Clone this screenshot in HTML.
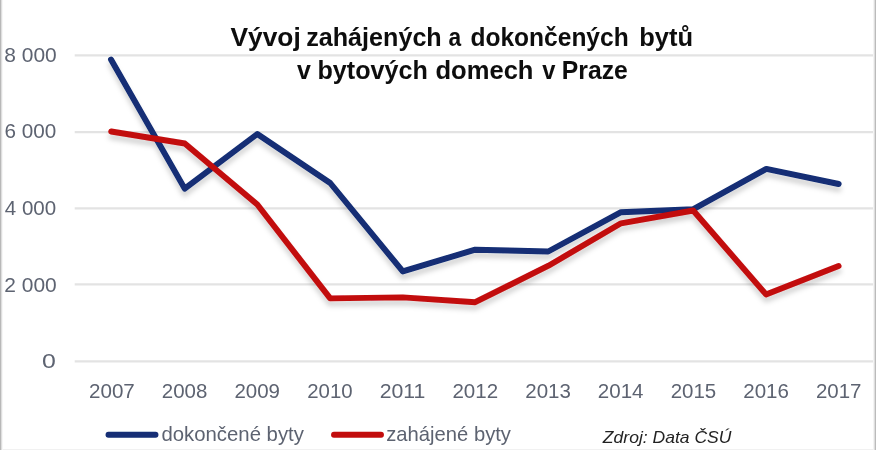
<!DOCTYPE html>
<html><head><meta charset="utf-8"><title>chart</title>
<style>
html,body{margin:0;padding:0;background:#fff;}
body{width:876px;height:450px;overflow:hidden;font-family:"Liberation Sans",sans-serif;}
svg{display:block;font-family:"Liberation Sans",sans-serif;will-change:transform;}
</style></head><body>
<svg width="876" height="450" viewBox="0 0 876 450">
<defs><filter id="sh" x="-5%" y="-10%" width="110%" height="125%" filterUnits="objectBoundingBox"><feGaussianBlur in="SourceAlpha" stdDeviation="2.6"/><feOffset dx="0" dy="5" result="b"/><feFlood flood-color="#000" flood-opacity="0.17"/><feComposite in2="b" operator="in"/><feMerge><feMergeNode/><feMergeNode in="SourceGraphic"/></feMerge></filter><filter id="soft" x="0" y="0" width="100%" height="100%" filterUnits="objectBoundingBox"><feGaussianBlur stdDeviation="0.35"/></filter></defs>
<rect width="876" height="450" fill="#fff"/>
<rect x="0" y="449" width="876" height="1" fill="#f1f1f1"/>
<g stroke="#e3e3e3" stroke-width="2.2"><line x1="74.7" x2="875" y1="55.3" y2="55.3"/><line x1="74.7" x2="875" y1="132.1" y2="132.1"/><line x1="74.7" x2="875" y1="208.3" y2="208.3"/><line x1="74.7" x2="875" y1="284.4" y2="284.4"/><line x1="74.7" x2="875" y1="361.4" y2="361.4"/></g>
<rect x="0" y="0" width="1" height="450" fill="#b8b8b8"/>
<rect x="1" y="0" width="1" height="450" fill="#dedede"/>
<rect x="2" y="0" width="1" height="450" fill="#f6f6f6"/>
<rect x="873" y="0" width="1" height="450" fill="#f4f4f4"/>
<rect x="874" y="0" width="1" height="450" fill="#dedede"/>
<rect x="875" y="0" width="1" height="450" fill="#bbbbbb"/>
<g filter="url(#soft)"><g fill="#5d6371"><text x="41.91" y="368.10" font-size="20.60" textLength="13.83" lengthAdjust="spacingAndGlyphs">0</text><text x="4.30" y="291.55" font-size="20.60" textLength="52.39" lengthAdjust="spacingAndGlyphs">2 000</text><text x="4.81" y="215.00" font-size="20.60" textLength="51.36" lengthAdjust="spacingAndGlyphs">4 000</text><text x="4.51" y="138.45" font-size="20.60" textLength="51.76" lengthAdjust="spacingAndGlyphs">6 000</text><text x="4.31" y="61.90" font-size="20.60" textLength="52.40" lengthAdjust="spacingAndGlyphs">8 000</text><text x="89.03" y="397.60" font-size="20.60" textLength="45.80" lengthAdjust="spacingAndGlyphs">2007</text><text x="161.86" y="397.60" font-size="20.60" textLength="45.52" lengthAdjust="spacingAndGlyphs">2008</text><text x="234.45" y="397.60" font-size="20.60" textLength="45.57" lengthAdjust="spacingAndGlyphs">2009</text><text x="307.27" y="397.60" font-size="20.60" textLength="45.34" lengthAdjust="spacingAndGlyphs">2010</text><text x="379.73" y="397.60" font-size="20.60" textLength="45.73" lengthAdjust="spacingAndGlyphs">2011</text><text x="452.42" y="397.60" font-size="20.60" textLength="45.67" lengthAdjust="spacingAndGlyphs">2012</text><text x="525.25" y="397.60" font-size="20.60" textLength="45.64" lengthAdjust="spacingAndGlyphs">2013</text><text x="597.83" y="397.60" font-size="20.60" textLength="45.70" lengthAdjust="spacingAndGlyphs">2014</text><text x="670.67" y="397.60" font-size="20.60" textLength="45.55" lengthAdjust="spacingAndGlyphs">2015</text><text x="743.24" y="397.60" font-size="20.60" textLength="45.64" lengthAdjust="spacingAndGlyphs">2016</text><text x="816.01" y="397.60" font-size="20.60" textLength="45.51" lengthAdjust="spacingAndGlyphs">2017</text><text x="161.42" y="441.10" font-size="20.30" textLength="142.52" lengthAdjust="spacingAndGlyphs">dokončené byty</text><text x="386.28" y="441.10" font-size="20.30" textLength="124.68" lengthAdjust="spacingAndGlyphs">zahájené byty</text></g>
<g font-weight="bold" fill="#0b0b0b"><text x="230.49" y="45.60" font-size="26.60" textLength="70.24" lengthAdjust="spacingAndGlyphs">Vývoj</text><text x="306.21" y="45.60" font-size="26.60" textLength="135.51" lengthAdjust="spacingAndGlyphs">zahájených</text><text x="448.62" y="45.60" font-size="26.60" textLength="12.63" lengthAdjust="spacingAndGlyphs">a</text><text x="470.48" y="45.60" font-size="26.60" textLength="158.19" lengthAdjust="spacingAndGlyphs">dokončených</text><text x="639.21" y="45.60" font-size="26.60" textLength="53.80" lengthAdjust="spacingAndGlyphs">bytů</text><text x="296.94" y="79.20" font-size="26.60" textLength="13.85" lengthAdjust="spacingAndGlyphs">v</text><text x="317.50" y="79.20" font-size="26.60" textLength="110.33" lengthAdjust="spacingAndGlyphs">bytových</text><text x="435.47" y="79.20" font-size="26.60" textLength="98.01" lengthAdjust="spacingAndGlyphs">domech</text><text x="542.14" y="79.20" font-size="26.60" textLength="13.19" lengthAdjust="spacingAndGlyphs">v</text><text x="561.83" y="79.20" font-size="26.60" textLength="65.96" lengthAdjust="spacingAndGlyphs">Praze</text></g>
<g fill="none" stroke-linecap="round" stroke-linejoin="round" stroke-width="5.9">
<g filter="url(#sh)"><polyline stroke="#122d74" points="111.0,59.5 184.7,188.6 257.3,134.0 330.2,183.0 402.8,271.4 475.2,249.7 548.2,251.5 621.0,212.2 693.0,209.3 766.3,168.9 838.7,184.0"/>
<polyline stroke="#c20a0d" points="111.2,131.5 184.8,143.5 257.3,204.5 330.2,298.4 402.8,297.4 475.2,302.2 548.5,265.7 621.0,223.3 693.2,210.5 766.0,294.4 838.6,266.0"/></g>
<line stroke="#122d74" x1="108.5" x2="155.5" y1="434.7" y2="434.7"/>
<line stroke="#c20a0d" x1="334" x2="381" y1="434.7" y2="434.7"/>
</g>
<g font-style="italic" fill="#222"><text x="602.86" y="442.90" font-size="16.60" textLength="128.59" lengthAdjust="spacingAndGlyphs">Zdroj: Data ČSÚ</text></g></g>
</svg>
</body></html>
